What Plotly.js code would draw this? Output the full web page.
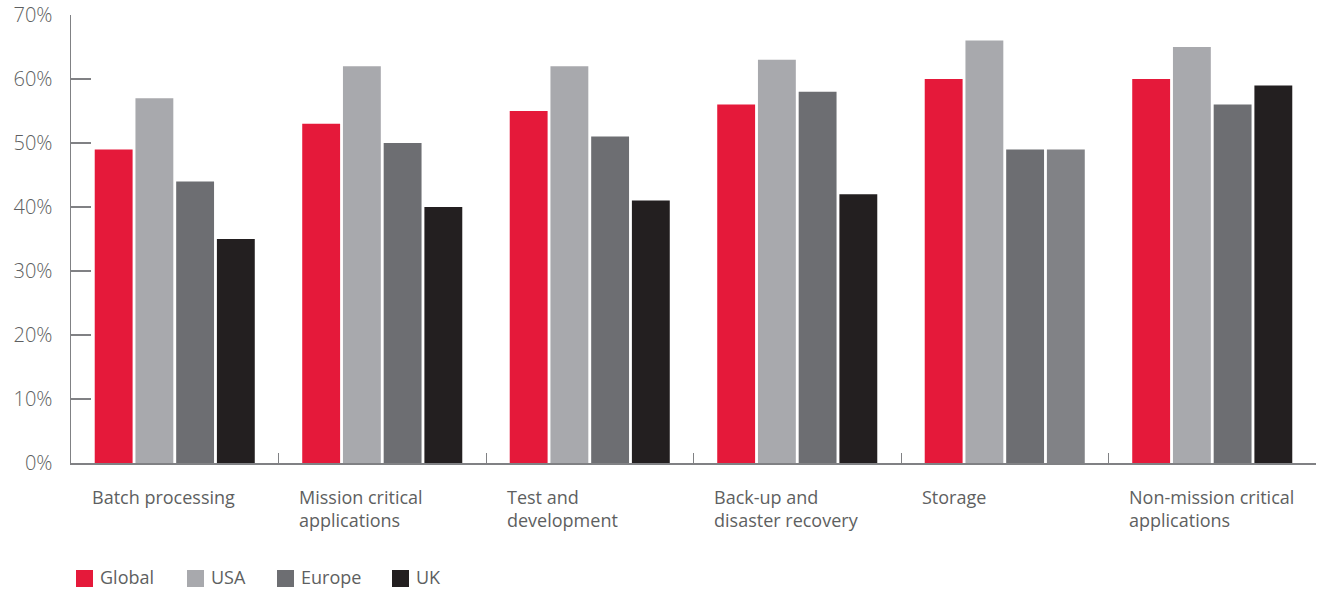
<!DOCTYPE html>
<html>
<head>
<meta charset="utf-8">
<script src="https://cdn.plot.ly/plotly-3.0.1.min.js"></script>
<style>
  html, body { margin: 0; padding: 0; background: #fff; }
  #chart { width: 1320px; height: 590px; }
</style>
</head>
<body>
<div id="chart"></div>
<script>
// Workload categories (x axis) and their label text
const categories = [
  "Batch processing",
  "Mission critical applications",
  "Test and development",
  "Back-up and disaster recovery",
  "Storage",
  "Non-mission critical applications"
];
const categoryLabels = [
  "Batch processing",
  "Mission critical<br>applications",
  "Test and<br>development",
  "Back-up and<br>disaster recovery",
  "Storage",
  "Non-mission critical<br>applications"
];

// Share of respondents (%) per region
const seriesNames = ["Global", "USA", "Europe", "UK"];
const globalValues = [49, 53, 55, 56, 60, 60];
const usaValues    = [57, 62, 62, 63, 66, 65];
const europeValues = [44, 50, 51, 58, 49, 56];
const ukValues     = [35, 40, 41, 42, 49, 59];

// Y axis tick values and labels
const yTickValues = [0, 10, 20, 30, 40, 50, 60, 70];
const yTickLabels = ["0%", "10%", "20%", "30%", "40%", "50%", "60%", "70%"];

const seriesColors = ["#e5193a", "#a8a9ad", "#6d6e72", "#231f20"];
// The UK bar for Storage is drawn in a lighter grey
const ukBarColors = ["#231f20", "#231f20", "#231f20", "#231f20", "#818286", "#231f20"];

const allValues = [globalValues, usaValues, europeValues, ukValues];
const textColor = "#5e5f61";
const axisColor = "#808184";
const fontFamily = "'Open Sans', Lato, sans-serif";

const traces = allValues.map((vals, i) => ({
  type: "bar",
  name: seriesNames[i],
  x: categories,
  y: vals,
  marker: { color: i === 3 ? ukBarColors : seriesColors[i], line: { width: 0 } },
  hoverinfo: "x+y+name",
  showlegend: false
}));

// Left-aligned category labels under each group
const annotations = categoryLabels.map((t, i) => ({
  x: i - 0.41,
  y: 0,
  xref: "x",
  yref: "y",
  xanchor: "left",
  yanchor: "top",
  yshift: -20,
  align: "left",
  showarrow: false,
  text: t,
  font: { family: fontFamily, size: 18, weight: 400, color: textColor }
}));

// Custom legend: squares and names along the bottom
const legendX = [76, 187, 277, 392];
const shapes = [];
seriesNames.forEach((name, i) => {
  shapes.push({
    type: "rect",
    xref: "paper", yref: "paper",
    xsizemode: "pixel", ysizemode: "pixel",
    xanchor: 0, yanchor: 0,
    x0: legendX[i] - 71, x1: legendX[i] - 71 + 17,
    y0: -(570 - 463), y1: -(587 - 463),
    fillcolor: seriesColors[i],
    line: { width: 0 }
  });
  annotations.push({
    xref: "paper", yref: "paper",
    x: 0, y: 0,
    xshift: legendX[i] - 71 + 22,
    yshift: -(577 - 463),
    xanchor: "left", yanchor: "middle",
    showarrow: false,
    text: name,
    font: { family: fontFamily, size: 18, weight: 400, color: textColor }
  });
});

const layout = {
  width: 1320,
  height: 590,
  margin: { l: 71, r: 4, t: 15, b: 127 },
  paper_bgcolor: "#ffffff",
  plot_bgcolor: "#ffffff",
  barmode: "group",
  bargap: 0.215,
  bargroupgap: 0.07,
  showlegend: false,
  font: { family: fontFamily, color: textColor },
  xaxis: {
    type: "category",
    showgrid: false,
    zeroline: false,
    showline: true,
    linecolor: axisColor,
    linewidth: 1.5,
    ticks: "inside",
    tickson: "boundaries",
    ticklen: 10,
    tickwidth: 1,
    tickcolor: axisColor,
    showticklabels: false,
    fixedrange: true
  },
  yaxis: {
    range: [0, 70],
    tickvals: yTickValues,
    ticktext: yTickLabels,
    showgrid: false,
    zeroline: false,
    showline: true,
    linecolor: axisColor,
    linewidth: 1.5,
    ticks: "inside",
    ticklen: 20,
    tickwidth: 1.5,
    tickcolor: axisColor,
    ticklabelstandoff: 13,
    tickfont: { family: fontFamily, size: 20, weight: 300, color: textColor },
    fixedrange: true
  },
  annotations: annotations,
  shapes: shapes
};

Plotly.newPlot("chart", traces, layout, { displayModeBar: false, staticPlot: true });
</script>
</body>
</html>
